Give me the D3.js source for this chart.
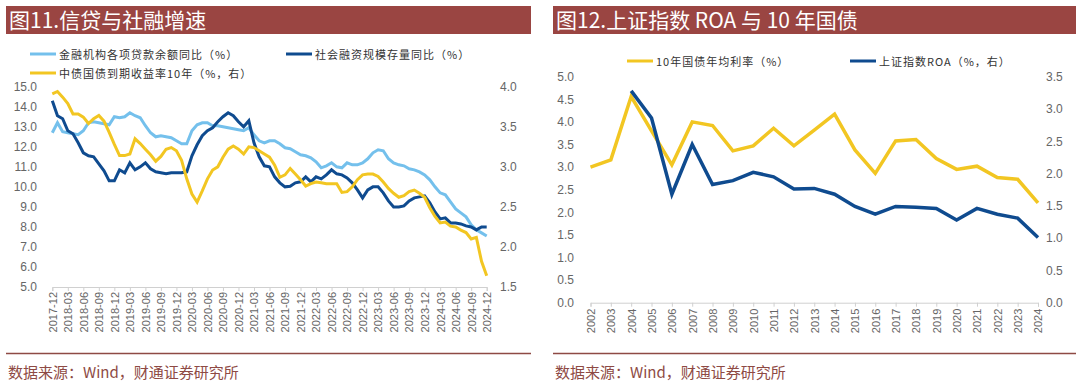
<!DOCTYPE html>
<meta charset="utf-8">
<script src="https://d3js.org/d3.v7.min.js"></script>
<style>
  body { margin: 0; background: #fff; }
</style>
<div id="chart"></div>
<script>

// ---- data: figure 11 (monthly, 2017-12 .. 2024-12) ----
var loanGrowth = [12.7, 13.2, 12.75, 12.7, 12.65, 12.6, 12.8, 13.2, 13.25, 13.2, 13.15, 13.1,
  13.5, 13.45, 13.5, 13.7, 13.55, 13.45, 13.05, 12.7, 12.5, 12.55, 12.5, 12.45,
  12.3, 12.15, 12.15, 12.8, 13.1, 13.2, 13.2, 13.05, 13.05, 13.0, 12.95, 12.9,
  12.85, 12.8, 12.95, 12.6, 12.3, 12.2, 12.3, 12.3, 12.15, 11.95, 11.9, 11.75,
  11.6, 11.55, 11.45, 11.25, 10.95, 11.05, 11.2, 11.0, 10.95, 11.2, 11.1, 11.1,
  11.2, 11.4, 11.7, 11.85, 11.8, 11.4, 11.2, 11.1, 11.05, 10.9, 10.85, 10.75,
  10.6, 10.35, 10.0, 9.7, 9.6, 9.25, 8.9, 8.7, 8.5, 8.1, 7.85, 7.7, 7.55];

var tsfGrowth = [14.3, 13.55, 13.4, 12.8, 12.65, 12.2, 11.7, 11.55, 11.5, 11.15, 10.8, 10.3,
  10.3, 10.85, 10.7, 11.2, 10.85, 11.0, 11.2, 10.9, 10.75, 10.7, 10.65, 10.7,
  10.7, 10.7, 10.75, 11.55, 12.1, 12.55, 12.8, 12.95, 13.25, 13.5, 13.7, 13.55,
  13.25, 13.0, 13.3, 12.2, 11.5, 11.05, 11.0, 10.5, 10.2, 10.0, 10.03, 10.2,
  10.25, 10.5, 10.25, 10.5, 10.4, 10.6, 10.85, 10.65, 10.6, 10.45, 10.2, 9.85,
  9.45, 9.85, 10.0, 10.0, 9.7, 9.3, 9.0, 9.0, 9.05, 9.3, 9.45, 9.5,
  9.55, 9.2, 8.75, 8.4, 8.45, 8.2, 8.2, 8.15, 8.05, 8.0, 7.85, 8.0, 8.0];

var cgb10y = [3.91, 3.94, 3.87, 3.79, 3.66, 3.66, 3.62, 3.54, 3.60, 3.64, 3.57, 3.43,
  3.28, 3.14, 3.14, 3.16, 3.35, 3.29, 3.22, 3.15, 3.07, 3.13, 3.22, 3.24,
  3.2, 3.08, 2.85, 2.66, 2.56, 2.70, 2.85, 2.96, 3.0, 3.12, 3.22, 3.26,
  3.22, 3.16, 3.25, 3.24, 3.2, 3.16, 3.12, 3.02, 2.87, 2.9, 2.98, 2.91,
  2.84, 2.76, 2.79, 2.81, 2.8, 2.79, 2.79, 2.79, 2.68, 2.69, 2.75, 2.84,
  2.9, 2.91, 2.91, 2.88, 2.81, 2.73, 2.67, 2.62, 2.64, 2.69, 2.71, 2.67,
  2.62, 2.49, 2.38, 2.30, 2.31, 2.26, 2.25, 2.21, 2.18, 2.1, 2.12, 1.82, 1.64];

var monthTicks = ["2017-12", "2018-03", "2018-06", "2018-09", "2018-12", "2019-03", "2019-06",
  "2019-09", "2019-12", "2020-03", "2020-06", "2020-09", "2020-12", "2021-03", "2021-06",
  "2021-09", "2021-12", "2022-03", "2022-06", "2022-09", "2022-12", "2023-03", "2023-06",
  "2023-09", "2023-12", "2024-03", "2024-06", "2024-09", "2024-12"];

// ---- data: figure 12 (annual) ----
var years = ["2002", "2003", "2004", "2005", "2006", "2007", "2008", "2009", "2010", "2011", "2012",
  "2013", "2014", "2015", "2016", "2017", "2018", "2019", "2020", "2021", "2022", "2023", "2024"];

var bondAvg = [3.0, 3.16, 4.56, 3.8, 3.05, 4.0, 3.92, 3.36, 3.47, 3.86, 3.47,
  3.82, 4.17, 3.38, 2.86, 3.58, 3.61, 3.19, 2.95, 3.02, 2.77, 2.73, 2.21];

var shROA = [null, null, 3.28, 2.86, 1.68, 2.45, 1.83, 1.89, 2.02, 1.95, 1.76,
  1.77, 1.68, 1.49, 1.37, 1.49, 1.48, 1.46, 1.28, 1.46, 1.37, 1.31, 1.01];

var lightBlue = "#74c0ec", darkBlue = "#0f4b8f", gold = "#f2c622",
    barRed = "#9a4542", srcRed = "#8e4a44", grey = "#666";

var svg = d3.select("#chart")
  .append("svg")
    .attr("width", 1080)
    .attr("height", 383);

// panel frame: title bar, bottom rule and source line
function frame(x0, x1, title) {
  svg.append("rect")
    .attr("x", x0).attr("y", 6)
    .attr("width", x1 - x0).attr("height", 28)
    .attr("fill", barRed);
  svg.append("text")
    .attr("x", x0 + 3).attr("y", 28)
    .text(title)
    .style("font-family", "'Noto Sans CJK SC', sans-serif")
    .style("font-size", "21px")
    .attr("fill", "#fff");
  svg.append("line")
    .attr("x1", x0).attr("x2", x1)
    .attr("y1", 353.5).attr("y2", 353.5)
    .attr("stroke", srcRed).attr("stroke-width", 1.5);
  svg.append("text")
    .attr("x", x0 + 2).attr("y", 378)
    .text("数据来源：Wind，财通证券研究所")
    .style("font-family", "'Noto Sans CJK SC', sans-serif")
    .style("font-size", "15px")
    .attr("fill", srcRed);
}

function legendItem(x, y, color, label) {
  svg.append("line")
    .attr("x1", x).attr("x2", x + 26)
    .attr("y1", y).attr("y2", y)
    .attr("stroke", color).attr("stroke-width", 3);
  svg.append("text")
    .attr("x", x + 29).attr("y", y)
    .text(label)
    .attr("dominant-baseline", "central")
    .style("font-family", "'Noto Sans CJK SC', sans-serif")
    .style("font-size", "11px")
    .style("letter-spacing", "1px")
    .attr("fill", "#333");
}

function styleAxis(g) {
  g.selectAll("text")
    .style("font-family", "'Liberation Sans', Arial, sans-serif")
    .attr("fill", grey);
  g.selectAll("line").attr("stroke", "#d0d0d0");
  g.select(".domain").attr("stroke", "#d0d0d0");
}

// ================= figure 11 =================
frame(6, 531, "图11.信贷与社融增速");
legendItem(30, 54, lightBlue, "金融机构各项贷款余额同比（%）");
legendItem(286, 54, darkBlue, "社会融资规模存量同比（%）");
legendItem(30, 73, gold, "中债国债到期收益率10年（%，右）");

var months = d3.range(loanGrowth.length);
var x1 = d3.scaleLinear().domain([0, months.length - 1]).range([52.3, 486.7]);
var y1 = d3.scaleLinear().domain([5, 15]).range([287, 86.7]);
var y1r = d3.scaleLinear().domain([1.5, 4]).range([287, 86.7]);

svg.append("g")
  .attr("transform", "translate(52,0)")
  .call(d3.axisLeft(y1).tickValues(d3.range(5, 15.01, 1)).tickFormat(d3.format(".1f")).tickSize(0).tickPadding(15))
  .call(function(g) { g.select(".domain").remove(); })
  .call(styleAxis)
  .selectAll("text").style("font-size", "12px");

svg.append("g")
  .attr("transform", "translate(487,0)")
  .call(d3.axisRight(y1r).tickValues([1.5, 2, 2.5, 3, 3.5, 4]).tickFormat(d3.format(".1f")).tickSize(0).tickPadding(13))
  .call(function(g) { g.select(".domain").remove(); })
  .call(styleAxis)
  .selectAll("text").style("font-size", "12px");

svg.append("g")
  .attr("transform", "translate(0,287)")
  .call(d3.axisBottom(x1)
    .tickValues(monthTicks.map(function(d, i) { return i * 3; }))
    .tickFormat(function(d) { return monthTicks[d / 3]; })
    .tickSizeOuter(0).tickSize(4))
  .call(styleAxis)
  .selectAll("text")
    .style("font-size", "11px")
    .attr("text-anchor", "end")
    .attr("transform", "translate(0,5) rotate(-90)")
    .attr("x", 0).attr("y", 0).attr("dy", "0.35em");

var line1 = d3.line().x(function(d, i) { return x1(i); }).y(function(d) { return y1(d); });
var line1r = d3.line().x(function(d, i) { return x1(i); }).y(function(d) { return y1r(d); });

svg.append("path").datum(loanGrowth).attr("d", line1)
  .attr("fill", "none").attr("stroke", lightBlue).attr("stroke-width", 3);
svg.append("path").datum(tsfGrowth).attr("d", line1)
  .attr("fill", "none").attr("stroke", darkBlue).attr("stroke-width", 3);
svg.append("path").datum(cgb10y).attr("d", line1r)
  .attr("fill", "none").attr("stroke", gold).attr("stroke-width", 3);

// ================= figure 12 =================
frame(553, 1076, "图12.上证指数 ROA 与 10 年国债");
legendItem(627, 61, gold, "10年国债年均利率（%）");
legendItem(850, 61, darkBlue, "上证指数ROA（%，右）");

var x2 = d3.scalePoint().domain(years).range([590.5, 1038]);
var y2 = d3.scaleLinear().domain([0, 5]).range([302.7, 76.7]);
var y2r = d3.scaleLinear().domain([0, 3.5]).range([302.7, 76.7]);

svg.append("g")
  .attr("transform", "translate(590,0)")
  .call(d3.axisLeft(y2).tickValues(d3.range(0, 5.01, 0.5)).tickFormat(d3.format(".1f")).tickSize(0).tickPadding(16))
  .call(function(g) { g.select(".domain").remove(); })
  .call(styleAxis)
  .selectAll("text").style("font-size", "12px");

svg.append("g")
  .attr("transform", "translate(1038,0)")
  .call(d3.axisRight(y2r).tickValues(d3.range(0, 3.51, 0.5)).tickFormat(d3.format(".1f")).tickSize(0).tickPadding(8))
  .call(function(g) { g.select(".domain").remove(); })
  .call(styleAxis)
  .selectAll("text").style("font-size", "12px");

svg.append("g")
  .attr("transform", "translate(0,302.7)")
  .call(d3.axisBottom(x2).tickSizeOuter(0).tickSize(4))
  .call(styleAxis)
  .selectAll("text")
    .style("font-size", "11px")
    .attr("text-anchor", "end")
    .attr("transform", "translate(0,6) rotate(-90)")
    .attr("x", 0).attr("y", 0).attr("dy", "0.35em");

var line2 = d3.line().x(function(d, i) { return x2(years[i]); }).y(function(d) { return y2(d); });
var line2r = d3.line()
  .defined(function(d) { return d !== null; })
  .x(function(d, i) { return x2(years[i]); }).y(function(d) { return y2r(d); });

svg.append("path").datum(bondAvg).attr("d", line2)
  .attr("fill", "none").attr("stroke", gold).attr("stroke-width", 3.5);
svg.append("path").datum(shROA).attr("d", line2r)
  .attr("fill", "none").attr("stroke", darkBlue).attr("stroke-width", 3.5);

</script>
